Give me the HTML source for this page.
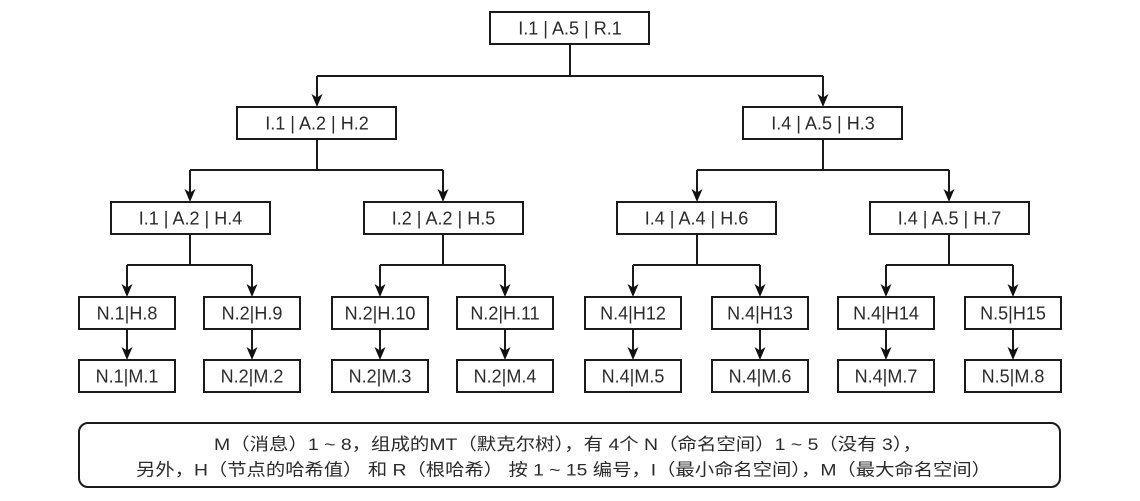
<!DOCTYPE html>
<html>
<head>
<meta charset="utf-8">
<style>
  html,body{margin:0;padding:0;background:#fff;}
  svg{display:block;}
  .b{fill:#fff;stroke:#1a1a1a;stroke-width:2;}
  .l{fill:none;stroke:#1a1a1a;stroke-width:2;}
  .a{fill:#111;stroke:none;}
  .t{font-family:"Liberation Sans",Arial,sans-serif;font-size:18px;fill:#2a2a2a;text-anchor:middle;}
  .c{font-family:"Liberation Sans","Noto Sans CJK SC",sans-serif;font-size:17px;fill:#2a2a2a;}
</style>
</head>
<body>
<svg width="1140" height="501" viewBox="0 0 1140 501" xmlns="http://www.w3.org/2000/svg">
  <rect x="0" y="0" width="1140" height="501" fill="#fff"/>

  <!-- connectors: root -> L1 -->
  <path class="l" d="M570 44 V76 M317 76 H823 M317 76 V288 M823 76 V288" style="display:none"/>
  <path class="l" d="M570 44 V76 M317 76 H823 M317 76 V98 M823 76 V98"/>
  <!-- L1 -> L2 -->
  <path class="l" d="M317 139 V170 M190 170 H443 M190 170 V193 M443 170 V193"/>
  <path class="l" d="M823 139 V170 M697 170 H949 M697 170 V193 M949 170 V193"/>
  <!-- L2 -> leaves -->
  <path class="l" d="M190 234 V265 M127 265 H252 M127 265 V288 M252 265 V288"/>
  <path class="l" d="M443 234 V265 M380 265 H505 M380 265 V288 M505 265 V288"/>
  <path class="l" d="M697 234 V265 M633 265 H760 M633 265 V288 M760 265 V288"/>
  <path class="l" d="M949 234 V265 M886 265 H1013 M886 265 V288 M1013 265 V288"/>
  <!-- leaves -> messages -->
  <path class="l" d="M127 329 V351 M252 329 V351 M380 329 V351 M505 329 V351 M633 329 V351 M760 329 V351 M886 329 V351 M1013 329 V351"/>

  <!-- arrowheads -->
  <g class="a">
    <path d="M317 107 L311.5 94 L317 97.5 L322.5 94 Z"/>
    <path d="M823 107 L817.5 94 L823 97.5 L828.5 94 Z"/>
    <path d="M190 202 L184.5 189 L190 192.5 L195.5 189 Z"/>
    <path d="M443 202 L437.5 189 L443 192.5 L448.5 189 Z"/>
    <path d="M697 202 L691.5 189 L697 192.5 L702.5 189 Z"/>
    <path d="M949 202 L943.5 189 L949 192.5 L954.5 189 Z"/>

    <path d="M127 297 L121.5 284 L127 287.5 L132.5 284 Z"/>
    <path d="M252 297 L246.5 284 L252 287.5 L257.5 284 Z"/>
    <path d="M380 297 L374.5 284 L380 287.5 L385.5 284 Z"/>
    <path d="M505 297 L499.5 284 L505 287.5 L510.5 284 Z"/>
    <path d="M633 297 L627.5 284 L633 287.5 L638.5 284 Z"/>
    <path d="M760 297 L754.5 284 L760 287.5 L765.5 284 Z"/>
    <path d="M886 297 L880.5 284 L886 287.5 L891.5 284 Z"/>
    <path d="M1013 297 L1007.5 284 L1013 287.5 L1018.5 284 Z"/>

    <path d="M127 360 L121.5 347 L127 350.5 L132.5 347 Z"/>
    <path d="M252 360 L246.5 347 L252 350.5 L257.5 347 Z"/>
    <path d="M380 360 L374.5 347 L380 350.5 L385.5 347 Z"/>
    <path d="M505 360 L499.5 347 L505 350.5 L510.5 347 Z"/>
    <path d="M633 360 L627.5 347 L633 350.5 L638.5 347 Z"/>
    <path d="M760 360 L754.5 347 L760 350.5 L765.5 347 Z"/>
    <path d="M886 360 L880.5 347 L886 350.5 L891.5 347 Z"/>
    <path d="M1013 360 L1007.5 347 L1013 350.5 L1018.5 347 Z"/>
  </g>

  <!-- root -->
  <rect class="b" x="490" y="12" width="159" height="32"/>
  <text class="t" x="570" y="34.5">I.1 | A.5 | R.1</text>

  <!-- L1 -->
  <rect class="b" x="237" y="107" width="159" height="32"/>
  <text class="t" x="317" y="129.5">I.1 | A.2 | H.2</text>
  <rect class="b" x="743" y="107" width="159" height="32"/>
  <text class="t" x="823" y="129.5">I.4 | A.5 | H.3</text>

  <!-- L2 -->
  <rect class="b" x="111" y="202" width="159" height="32"/>
  <text class="t" x="190.5" y="224.5">I.1 | A.2 | H.4</text>
  <rect class="b" x="364" y="202" width="159" height="32"/>
  <text class="t" x="443.5" y="224.5">I.2 | A.2 | H.5</text>
  <rect class="b" x="617" y="202" width="159" height="32"/>
  <text class="t" x="696.5" y="224.5">I.4 | A.4 | H.6</text>
  <rect class="b" x="870" y="202" width="159" height="32"/>
  <text class="t" x="949.5" y="224.5">I.4 | A.5 | H.7</text>

  <!-- leaves -->
  <rect class="b" x="79" y="297" width="96" height="32"/>
  <text class="t" x="127" y="319.5">N.1|H.8</text>
  <rect class="b" x="204" y="297" width="96" height="32"/>
  <text class="t" x="252" y="319.5">N.2|H.9</text>
  <rect class="b" x="332" y="297" width="96" height="32"/>
  <text class="t" x="380" y="319.5">N.2|H.10</text>
  <rect class="b" x="457" y="297" width="96" height="32"/>
  <text class="t" x="505" y="319.5">N.2|H.11</text>
  <rect class="b" x="585" y="297" width="96" height="32"/>
  <text class="t" x="633" y="319.5">N.4|H12</text>
  <rect class="b" x="712" y="297" width="96" height="32"/>
  <text class="t" x="760" y="319.5">N.4|H13</text>
  <rect class="b" x="838" y="297" width="96" height="32"/>
  <text class="t" x="886" y="319.5">N.4|H14</text>
  <rect class="b" x="965" y="297" width="96" height="32"/>
  <text class="t" x="1013" y="319.5">N.5|H15</text>

  <!-- messages -->
  <rect class="b" x="79" y="360" width="96" height="32"/>
  <text class="t" x="127" y="382.5">N.1|M.1</text>
  <rect class="b" x="204" y="360" width="96" height="32"/>
  <text class="t" x="252" y="382.5">N.2|M.2</text>
  <rect class="b" x="332" y="360" width="96" height="32"/>
  <text class="t" x="380" y="382.5">N.2|M.3</text>
  <rect class="b" x="457" y="360" width="96" height="32"/>
  <text class="t" x="505" y="382.5">N.2|M.4</text>
  <rect class="b" x="585" y="360" width="96" height="32"/>
  <text class="t" x="633" y="382.5">N.4|M.5</text>
  <rect class="b" x="712" y="360" width="96" height="32"/>
  <text class="t" x="760" y="382.5">N.4|M.6</text>
  <rect class="b" x="838" y="360" width="96" height="32"/>
  <text class="t" x="886" y="382.5">N.4|M.7</text>
  <rect class="b" x="965" y="360" width="96" height="32"/>
  <text class="t" x="1013" y="382.5">N.5|M.8</text>

  <!-- note box -->
  <rect class="b" x="79" y="423" width="981" height="64" rx="9" ry="9"/>
  <text class="c" x="214" y="450" textLength="708" lengthAdjust="spacingAndGlyphs">M（消息）1 ~ 8，组成的MT（默克尔树），有 4个 N（命名空间）1 ~ 5（没有 3），</text>
  <text class="c" x="136" y="475.5" textLength="855" lengthAdjust="spacingAndGlyphs">另外，H（节点的哈希值） 和 R（根哈希） 按 1 ~ 15 编号，I（最小命名空间），M（最大命名空间）</text>
</svg>
</body>
</html>
